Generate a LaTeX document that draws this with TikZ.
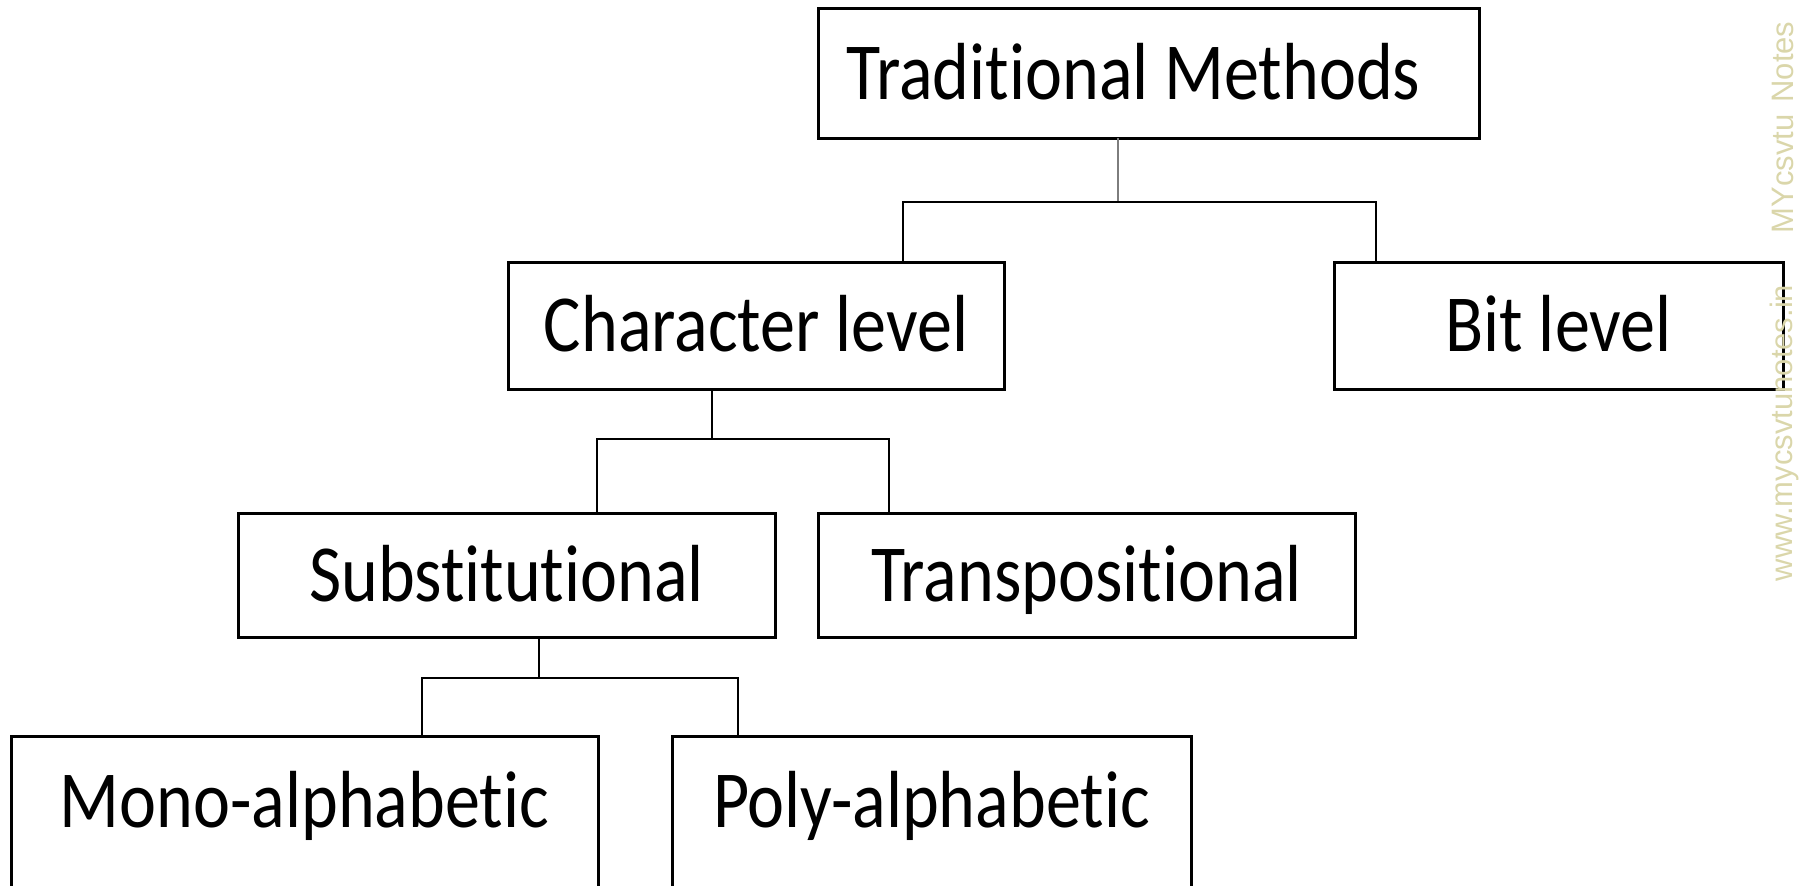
\documentclass[tikz,border=0pt]{standalone}
\usepackage{fontspec}
\usetikzlibrary{calc}
\newfontfamily\boxfont{Carlito}[FakeStretch=0.865, Ligatures=NoCommon]
\newfontfamily\markfont{Liberation Sans}
\definecolor{markcol}{RGB}{218,214,170}
\definecolor{trunkcol}{RGB}{125,125,125}

\begin{document}
\begin{tikzpicture}[x=1pt,y=-1pt,
  box/.style={draw=black, line width=3pt, inner sep=0pt, outer sep=0pt,
    text height=52pt, text depth=0pt,
    font=\boxfont\fontsize{81}{90}\selectfont},
  openbox/.style={box, text depth=51pt},
  link/.style={draw=black, line width=2.4pt},
  trunk/.style={draw=trunkcol, line width=2pt},
  watermark/.style={text=markcol, font=\markfont\fontsize{31}{34}\selectfont,
    rotate=90, anchor=base, inner sep=0pt}]
\useasboundingbox (0,0) rectangle (1799,886);
\clip (0,0) rectangle (1799,886);

% tree of boxes
\node[box, minimum width=661pt, minimum height=130pt] (trad) at (1148.5,73)
  {Traditional Methods\hspace*{30pt}};
\node[box, minimum width=496pt, minimum height=127pt] (char) at (756,325.5)
  {Character level};
\node[box, minimum width=449pt, minimum height=127pt] (bit) at (1558.5,325.5)
  {Bit level};
\node[box, minimum width=537pt, minimum height=124pt] (subst) at (506.5,575)
  {Substitutional};
\node[box, minimum width=537pt, minimum height=124pt] (trans) at (1086.5,575)
  {Transpositional};
\node[openbox, minimum width=587pt, minimum height=182pt] (mono) at (304.5,827)
  {Mono-alphabetic};
\node[openbox, minimum width=519pt, minimum height=182pt] (poly) at (931.5,827)
  {Poly-alphabetic};

% attachment points of the connectors
\coordinate (t1) at ($(trad.south west)!0.454!(trad.south east)$);
\coordinate (c1) at ($(char.north west)!0.796!(char.north east)$);
\coordinate (b1) at ($(bit.north west)!0.094!(bit.north east)$);
\coordinate (j1) at ($(t1)+(0,64)$);

\coordinate (c2) at ($(char.south west)!0.411!(char.south east)$);
\coordinate (s1) at ($(subst.north west)!0.669!(subst.north east)$);
\coordinate (r1) at ($(trans.north west)!0.132!(trans.north east)$);
\coordinate (j2) at ($(c2)+(0,50)$);

\coordinate (s2) at ($(subst.south west)!0.561!(subst.south east)$);
\coordinate (m1) at ($(mono.north west)!0.70!(mono.north east)$);
\coordinate (p1) at ($(poly.north west)!0.127!(poly.north east)$);
\coordinate (j3) at ($(s2)+(0,41)$);

% connectors
\draw[trunk] (t1) -- (j1);
\draw[link] (c1) |- (j1) -| (b1);
\draw[link] (c2) -- (j2);
\draw[link] (s1) |- (j2) -| (r1);
\draw[link] (s2) -- (j3);
\draw[link] (m1) |- (j3) -| (p1);

% watermark along the right edge
\node[watermark] (wm1) at (1793,127.5) {MYcsvtu\hspace{12pt}Notes};
\node[watermark] (wm2) at (1792,433) {www.mycsvtunotes.in};
\end{tikzpicture}
\end{document}
